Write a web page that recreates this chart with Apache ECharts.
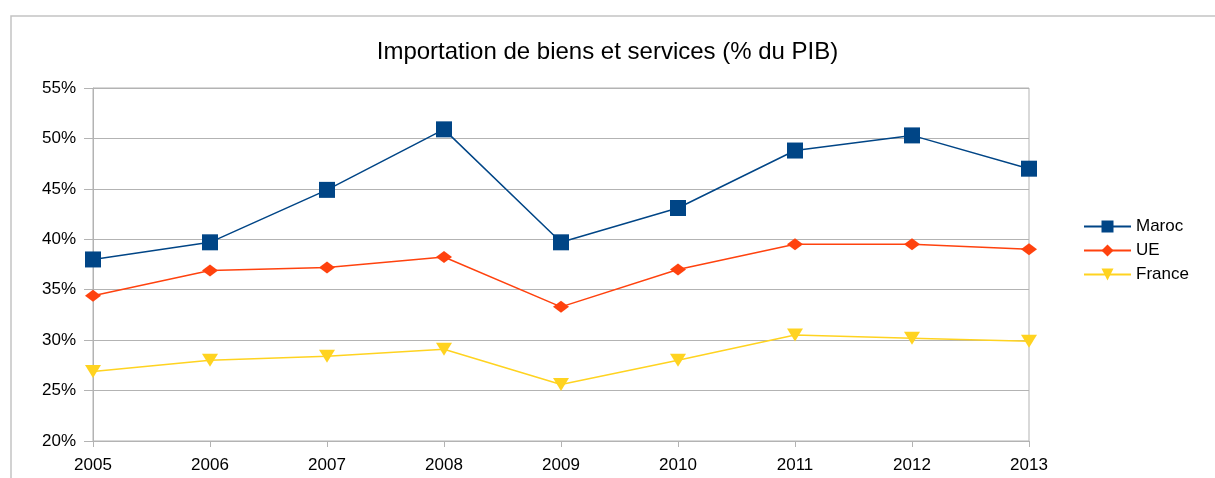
<!DOCTYPE html>
<html>
<head>
<meta charset="utf-8">
<script src="https://cdn.jsdelivr.net/npm/echarts@6/dist/echarts.min.js"></script>
<style>
    html, body { margin: 0; padding: 0; background: #fff; }
    #chart { width: 1215px; height: 478px; }
</style>
</head>
<body>
<div id="chart"></div>
<script>
var years = ['2005', '2006', '2007', '2008', '2009', '2010', '2011', '2012', '2013'];
var maroc = [38.0, 39.7, 44.9, 50.9, 39.7, 43.1, 48.8, 50.3, 47.0];
var ue = [34.4, 36.9, 37.2, 38.25, 33.3, 37.0, 39.5, 39.5, 39.0];
var france = [26.9, 28.0, 28.4, 29.1, 25.6, 28.0, 30.5, 30.2, 29.9];
var seriesNames = ['Maroc', 'UE', 'France'];
var colorList = ['#004586', '#ff420e', '#ffd320'];

var font = 'Liberation Sans, Arial, sans-serif';
var myChart = echarts.init(document.getElementById('chart'));
var option = {
    animation: false,
    color: colorList,
    textStyle: { fontFamily: font },
    graphic: [{
        // cadre gris autour du graphique
        type: 'rect',
        shape: { x: 11, y: 16, width: 1400, height: 700 },
        style: { fill: 'none', stroke: '#c3c3c3', lineWidth: 1.5 },
        silent: true
    }],
    title: {
        text: 'Importation de biens et services (% du PIB)',
        left: 'center',
        top: 40,
        padding: 0,
        textStyle: { fontSize: 24, fontWeight: 'normal', color: '#000', fontFamily: font }
    },
    legend: {
        orient: 'vertical',
        left: 1083,
        top: 218,
        padding: 0,
        itemWidth: 47,
        itemHeight: 15,
        itemGap: 7,
        textStyle: { fontSize: 17, color: '#000', fontFamily: font },
        data: seriesNames
    },
    grid: {
        left: 93,
        right: 186,
        top: 88,
        bottom: 37,
        show: true,
        borderColor: '#b3b3b3',
        borderWidth: 1
    },
    xAxis: {
        type: 'category',
        data: years,
        boundaryGap: false,
        axisLine: { lineStyle: { color: '#b3b3b3' } },
        axisTick: { show: true, length: 6, lineStyle: { color: '#b3b3b3' } },
        axisLabel: { color: '#000', fontSize: 17, margin: 16, fontFamily: font },
        splitLine: { show: false }
    },
    yAxis: {
        type: 'value',
        min: 20,
        max: 55,
        interval: 5,
        axisLine: { show: true, lineStyle: { color: '#b3b3b3' } },
        axisTick: { show: true, length: 9, lineStyle: { color: '#b3b3b3' } },
        axisLabel: { color: '#000', fontSize: 17, margin: 17, formatter: '{value}%', fontFamily: font },
        splitLine: { lineStyle: { color: '#b3b3b3' } }
    },
    series: [
        {
            name: seriesNames[0],
            type: 'line',
            data: maroc,
            symbol: 'rect',
            symbolSize: 16,
            lineStyle: { width: 1.5 },
            itemStyle: { color: colorList[0] }
        },
        {
            name: seriesNames[1],
            type: 'line',
            data: ue,
            symbol: 'diamond',
            symbolSize: [16, 12],
            lineStyle: { width: 1.5 },
            itemStyle: { color: colorList[1] }
        },
        {
            name: seriesNames[2],
            type: 'line',
            data: france,
            symbol: 'triangle',
            symbolRotate: 180,
            symbolSize: [16, 13],
            lineStyle: { width: 1.5 },
            itemStyle: { color: colorList[2] }
        }
    ]
};
myChart.setOption(option);
</script>
</body>
</html>
